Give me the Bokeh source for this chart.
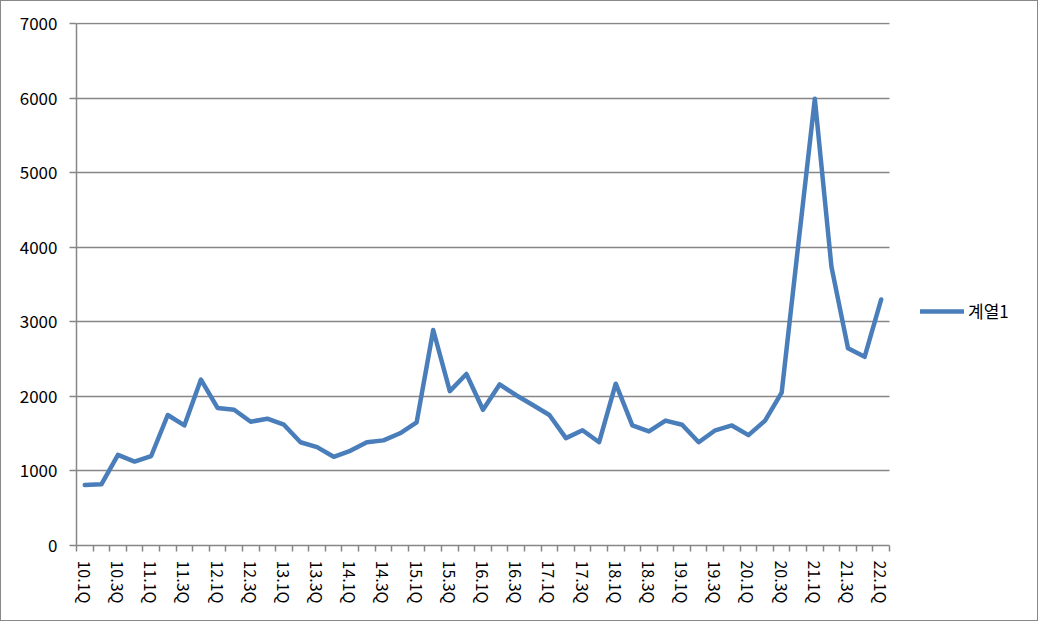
from bokeh.plotting import figure
from bokeh.models import FixedTicker, Range1d, Legend, LegendItem, ColumnDataSource
from bokeh.embed import file_html
from bokeh.resources import INLINE

quarters = [f"{y}.{q}Q" for y in range(10, 23) for q in range(1, 5)][:49]
values = [810, 820, 1215, 1125, 1200, 1750, 1610, 2225, 1845, 1820,
          1660, 1700, 1620, 1385, 1320, 1190, 1270, 1385, 1410, 1505,
          1650, 2890, 2070, 2300, 1820, 2160, 2015, 1885, 1750, 1440,
          1545, 1385, 2170, 1610, 1530, 1675, 1620, 1385, 1545, 1610,
          1480, 1675, 2050, 4030, 5990, 3740, 2645, 2530, 3300]
series_name = "계열1"
y_ticks = [0, 1000, 2000, 3000, 4000, 5000, 6000, 7000]

GRAY = "#868686"
BLUE = "#4A7EBB"
FONT = "Noto Sans CJK KR"

W, H = 1038, 621
LEFT, TOP, BOTTOM = 75, 21, 77
PLOT_RIGHT = 888          # where the category axis ends
RIGHT = 4                 # frame extends nearly to edge so the legend is not clipped

n = len(quarters)
xs = [i + 0.5 for i in range(n)]
src = ColumnDataSource(dict(x=xs, y=values, q=quarters))

x_end = n * (W - RIGHT - LEFT) / (PLOT_RIGHT - LEFT)

p = figure(width=W, height=H, output_backend="svg", toolbar_location=None,
           x_range=Range1d(0, x_end), y_range=Range1d(0, 7014),
           min_border_left=LEFT, min_border_right=RIGHT, min_border_top=TOP, min_border_bottom=BOTTOM)
p.outline_line_color = None
p.background_fill_color = "white"
p.border_fill_color = "white"
p.styles = {"border": "1px solid #888888"}

r = p.line("x", "y", source=src, line_color=BLUE, line_width=4.5,
           line_join="round", line_cap="round")

# x axis: ticks between categories, labels every other category
label_pos = [xs[i] for i in range(0, n, 2)]
p.xaxis.ticker = FixedTicker(ticks=label_pos, minor_ticks=list(range(n + 1)))
p.xaxis.bounds = (0, n)
p.xaxis.major_label_overrides = {xs[i]: quarters[i] for i in range(0, n, 2)}
p.xaxis.major_label_orientation = "vertical"
p.xaxis.major_tick_out = 0
p.xaxis.major_tick_in = 0
p.xaxis.minor_tick_out = 6
p.xaxis.minor_tick_in = 0
p.xaxis.minor_tick_line_color = GRAY
p.xaxis.minor_tick_line_width = 1.5
p.xaxis.axis_line_color = GRAY
p.xaxis.axis_line_width = 1.5
p.xaxis.major_label_standoff = 9
p.xaxis.major_label_text_font = FONT
p.xaxis.major_label_text_font_size = "16px"
p.xaxis.major_label_text_color = "black"

p.yaxis.ticker = FixedTicker(ticks=y_ticks)
p.yaxis.bounds = (0, 7000)
p.yaxis.minor_tick_line_color = None
p.yaxis.major_tick_out = 7
p.yaxis.major_tick_in = 0
p.yaxis.major_tick_line_color = GRAY
p.yaxis.major_tick_line_width = 1.5
p.yaxis.axis_line_color = GRAY
p.yaxis.axis_line_width = 1.5
p.yaxis.major_label_standoff = 12
p.yaxis.major_label_text_font = FONT
p.yaxis.major_label_text_font_size = "17px"
p.yaxis.major_label_text_color = "black"

p.xgrid.grid_line_color = None
try:
    p.ygrid.cross_bounds = (0, n)
    p.ygrid.ticker = FixedTicker(ticks=y_ticks)
    p.ygrid.grid_line_color = GRAY
    p.ygrid.grid_line_width = 1.5
except Exception:
    p.ygrid.grid_line_color = None
    p.segment(x0=[0] * len(y_ticks), x1=[n] * len(y_ticks), y0=y_ticks, y1=y_ticks,
              line_color=GRAY, line_width=1.5, level="underlay")

legend = Legend(items=[LegendItem(label=series_name, renderers=[r])],
                location=(844, 222), orientation="vertical")
legend.border_line_color = None
legend.background_fill_alpha = 0
legend.padding = 0
legend.margin = 0
legend.glyph_width = 44
legend.glyph_height = 20
legend.label_standoff = 4
legend.label_text_font = FONT
legend.label_text_font_size = "17px"
legend.label_text_color = "black"
p.add_layout(legend, "center")

open("out.html", "w").write(file_html(p, INLINE))
